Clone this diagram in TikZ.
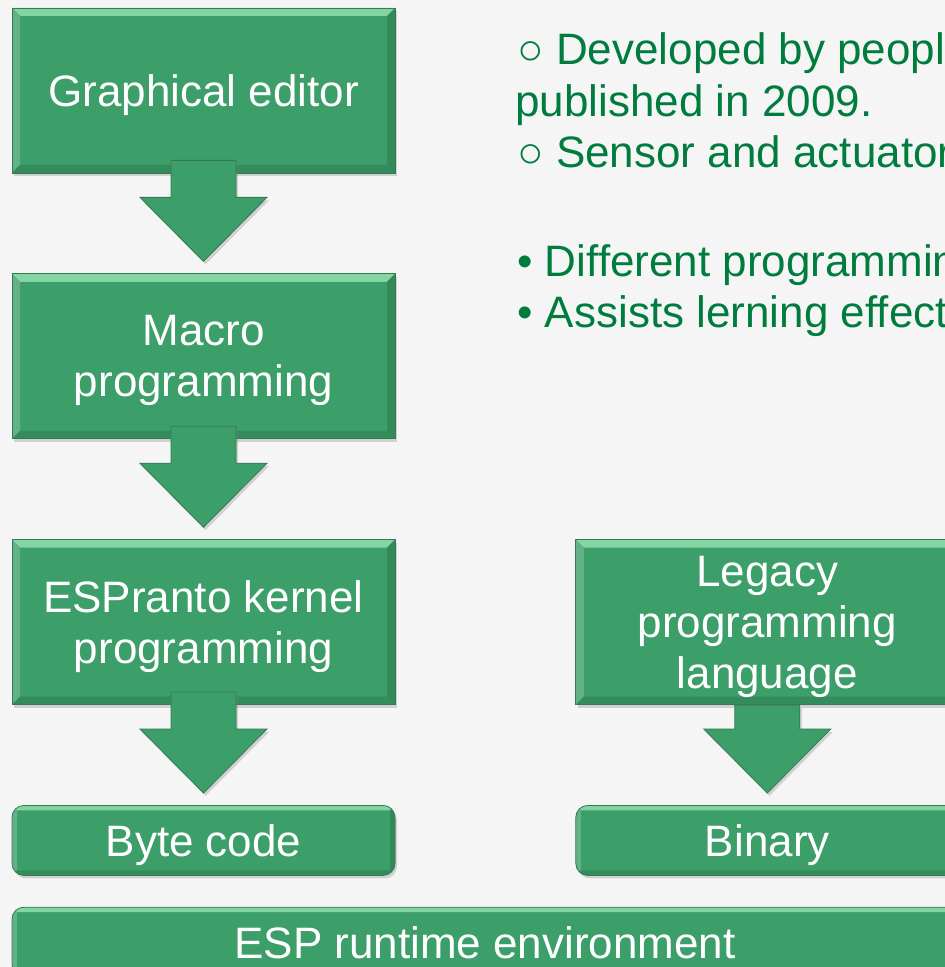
\documentclass[tikz,border=0pt]{standalone}
\usepackage{fontspec}
\setmainfont{Liberation Sans}
\usetikzlibrary{positioning,shadows}

\definecolor{boxgreen}{RGB}{60,158,105}
\definecolor{boxlight}{RGB}{132,212,164}
\definecolor{boxdark}{RGB}{46,128,84}
\definecolor{boxedge}{RGB}{52,122,82}
\definecolor{notegreen}{RGB}{0,125,62}
\definecolor{slidebg}{RGB}{245,245,245}

\tikzset{
  bevel/.style={path picture={
    \fill[boxlight,sharp corners] (path picture bounding box.north west) -- (path picture bounding box.north east)
      -- ([shift={(-#1,-#1)}]path picture bounding box.north east) -- ([shift={(#1,-#1)}]path picture bounding box.north west) -- cycle;
    \fill[boxgreen!80!white,sharp corners] (path picture bounding box.north west) -- ([shift={(#1,-#1)}]path picture bounding box.north west)
      -- ([shift={(#1,#1)}]path picture bounding box.south west) -- (path picture bounding box.south west) -- cycle;
    \fill[boxdark!70!boxgreen,sharp corners] (path picture bounding box.north east) -- ([shift={(-#1,-#1)}]path picture bounding box.north east)
      -- ([shift={(-#1,#1)}]path picture bounding box.south east) -- (path picture bounding box.south east) -- cycle;
    \fill[boxdark!60!boxgreen,sharp corners] (path picture bounding box.south west) -- (path picture bounding box.south east)
      -- ([shift={(-#1,#1)}]path picture bounding box.south east) -- ([shift={(#1,#1)}]path picture bounding box.south west) -- cycle;
  }},
  stage/.style={rectangle, draw=boxedge, fill=boxgreen, text=white, align=center,
    font=\fontsize{22}{25.5}\selectfont, inner sep=0pt, text depth=0pt,
    minimum width=191.5pt, minimum height=82.5pt, bevel=4pt,
    drop shadow={shadow xshift=1pt, shadow yshift=-1.5pt, opacity=0.3}},
  level/.style={stage, rounded corners=6pt, minimum height=35pt, bevel=2.5pt},
  flow/.style={fill=boxgreen, draw=boxedge, line width=0.4pt,
    drop shadow={shadow xshift=1pt, shadow yshift=-1.5pt, opacity=0.3}},
  note/.style={text=notegreen, font=\fontsize{22}{26}\selectfont, inner sep=0pt, anchor=base west}
}

\begin{document}
\begin{tikzpicture}
  \path[use as bounding box, fill=slidebg] (0,0) rectangle (472.5pt,-483.5pt);
  \clip (0,0) rectangle (472.5pt,-483.5pt);

  % left column
  \node[stage] (ge) at (101.75pt,-45.25pt) {Graphical editor};
  \node[stage, below=50pt of ge] (mp) {Macro\\programming};
  \node[stage, below=50pt of mp] (kp) {ESPranto kernel\\programming};
  \node[level, below=50pt of kp] (bc) {Byte code};

  % right column
  \node[stage, right=90pt of kp] (lp) {Legacy\\programming\\language};
  \node[level, below=50pt of lp] (bin) {Binary};

  \node[level, minimum width=473pt, anchor=north west] (rt) at ([yshift=-15.5pt]bc.south west) {ESP runtime environment};

  % block arrows
  \foreach \a/\b/\o in {ge/mp/6.5pt, mp/kp/6.5pt, kp/bc/6.5pt, lp/bin/0pt}
    \filldraw[flow] ([xshift=-16.25pt,yshift=\o]\a.south) -- ([xshift=16.25pt,yshift=\o]\a.south)
      -- ([xshift=16.25pt,yshift=-12pt]\a.south) -- ([xshift=31.75pt,yshift=-12pt]\a.south)
      -- ([yshift=6pt]\b.north) -- ([xshift=-31.75pt,yshift=-12pt]\a.south)
      -- ([xshift=-16.25pt,yshift=-12pt]\a.south) -- cycle;

  % notes
  \node[note] (dev) at (258.5pt,-32.5pt) {○ Developed by people};
  \node[note] (pub) at (257.5pt,-58.5pt) {published in 2009.};
  \node[note] (sen) at (258.5pt,-84pt) {○ Sensor and actuator};
  \node[note] (dif) at (258.5pt,-138.5pt) {• Different programming};
  \node[note] (ass) at (258.5pt,-164pt) {• Assists lerning effect};
\end{tikzpicture}
\end{document}
